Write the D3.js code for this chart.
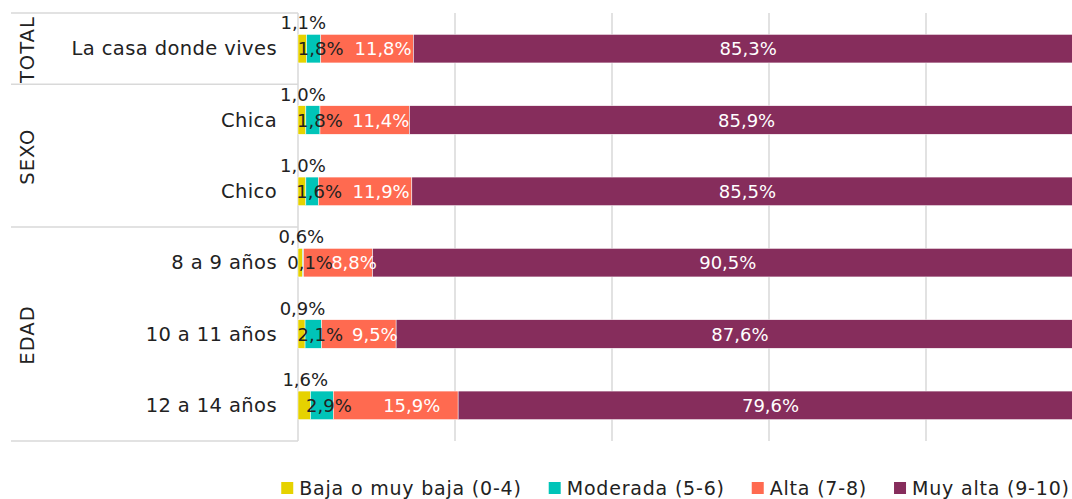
<!DOCTYPE html>
<html>
<head>
<meta charset="utf-8">
<script src="https://cdn.jsdelivr.net/npm/d3@7"></script>
<style>
  html, body { margin: 0; padding: 0; background: #fff; overflow: hidden; }
  svg { display: block; font-family: "DejaVu Sans", sans-serif; }
</style>
</head>
<body>
<svg id="chart" width="1072" height="499"></svg>
<script>
const categories = ["La casa donde vives", "Chica", "Chico", "8 a 9 años", "10 a 11 años", "12 a 14 años"];
const groupOf = ["TOTAL", "SEXO", "SEXO", "EDAD", "EDAD", "EDAD"];
const groups = ["TOTAL", "SEXO", "EDAD"];
const seriesNames = ["Baja o muy baja (0-4)", "Moderada (5-6)", "Alta (7-8)", "Muy alta (9-10)"];
const baja = [1.1, 1.0, 1.0, 0.6, 0.9, 1.6];
const moderada = [1.8, 1.8, 1.6, 0.1, 2.1, 2.9];
const alta = [11.8, 11.4, 11.9, 8.8, 9.5, 15.9];
const muyAlta = [85.3, 85.9, 85.5, 90.5, 87.6, 79.6];
const colors = ["#e6d200", "#00c4b8", "#ff6a50", "#862d5c"];
const gridTicks = [20, 40, 60, 80];

const svg = d3.select("#chart");
const fmt = v => d3.format(".1f")(v).replace(".", ",") + "%";

const x = d3.scaleLinear().domain([0, 100]).range([298, 1083]);
const y = d3.scaleBand().domain(categories).range([13, 441]).paddingInner(0.6).paddingOuter(0.3);

const rows = categories.map((c, i) => ({ cat: c, values: [baja[i], moderada[i], alta[i], muyAlta[i]] }));
const stack = d3.stack().keys([0, 1, 2, 3]).value((d, k) => d.values[k]);
const series = stack(rows);

// gridlines
svg.append("g")
    .attr("stroke", "#d9d9d9")
    .attr("stroke-width", 1.5)
  .selectAll("line")
  .data(gridTicks)
  .join("line")
    .attr("x1", d => x(d)).attr("x2", d => x(d))
    .attr("y1", 13).attr("y2", 441);

// group boxes on the left
const groupSpan = groups.map(g => {
  const cats = categories.filter((c, i) => groupOf[i] === g);
  const pad = (y.step() - y.bandwidth()) / 2;
  return {
    name: g,
    y0: y(cats[0]) - pad,
    y1: y(cats[cats.length - 1]) + y.bandwidth() + pad
  };
});

const box = svg.append("g")
    .attr("stroke", "#d9d9d9")
    .attr("stroke-width", 1.5);
box.selectAll("line.h")
  .data([groupSpan[0].y0, ...groupSpan.map(d => d.y1)])
  .join("line")
    .attr("class", "h")
    .attr("x1", 11).attr("x2", x(0))
    .attr("y1", d => d).attr("y2", d => d);
box.append("line")
    .attr("x1", x(0)).attr("x2", x(0))
    .attr("y1", 13).attr("y2", 441);

svg.append("g")
  .selectAll("text")
  .data(groupSpan)
  .join("text")
    .attr("transform", d => `translate(27,${(d.y0 + d.y1) / 2 + 1}) rotate(-90)`)
    .attr("text-anchor", "middle")
    .attr("dominant-baseline", "central")
    .attr("fill", "#222")
    .style("font-size", "19.5px")
    .style("letter-spacing", "1px")
    .text(d => d.name);

// category labels
svg.append("g")
  .selectAll("text")
  .data(categories)
  .join("text")
    .attr("x", 277)
    .attr("y", d => y(d) + y.bandwidth() / 2)
    .attr("text-anchor", "end")
    .attr("dominant-baseline", "central")
    .attr("fill", "#222")
    .style("font-size", "19.5px")
    .style("letter-spacing", "0.4px")
    .text(d => d);

// bars
svg.append("g")
  .selectAll("g")
  .data(series)
  .join("g")
    .attr("fill", (d, i) => colors[i])
  .selectAll("rect")
  .data(d => d)
  .join("rect")
    .attr("x", d => x(d[0]))
    .attr("y", d => y(d.data.cat))
    .attr("width", d => x(d[1]) - x(d[0]))
    .attr("height", y.bandwidth())
    .attr("stroke", "#fff")
    .attr("stroke-width", 0.5);

// data labels, drawn over all bars
const labelDx = [1, 7, 16, 0];
const labelFill = ["#222", "#222", "#fff", "#fff"];
svg.append("g")
  .selectAll("text")
  .data(series.flatMap((s, k) => s.map(p => ({ p, k }))))
  .join("text")
    .attr("x", d => (x(d.p[0]) + x(d.p[1])) / 2 + labelDx[d.k])
    .attr("y", d => y(d.p.data.cat) + y.bandwidth() / 2 - (d.k === 0 ? 26 : 0))
    .attr("text-anchor", "middle")
    .attr("dominant-baseline", "central")
    .attr("fill", d => labelFill[d.k])
    .style("font-size", "18px")
    .text(d => fmt(d.p[1] - d.p[0]));

// legend
const legend = svg.append("g");
const items = legend.selectAll("g")
  .data(seriesNames)
  .join("g");
items.append("rect")
    .attr("width", 12).attr("height", 12)
    .attr("y", -6)
    .attr("fill", (d, i) => colors[i]);
items.append("text")
    .attr("x", 18)
    .attr("dominant-baseline", "central")
    .attr("fill", "#222")
    .style("font-size", "19px")
    .style("letter-spacing", "0.8px")
    .text(d => d);

let cx = 0;
items.each(function() {
  const g = d3.select(this);
  g.attr("transform", `translate(${cx},0)`);
  cx += 18 + g.select("text").node().getComputedTextLength() + 27;
});
const total = cx - 27;
legend.attr("transform", `translate(${(285 + 1066) / 2 - total / 2},488)`);
</script>
</body>
</html>
